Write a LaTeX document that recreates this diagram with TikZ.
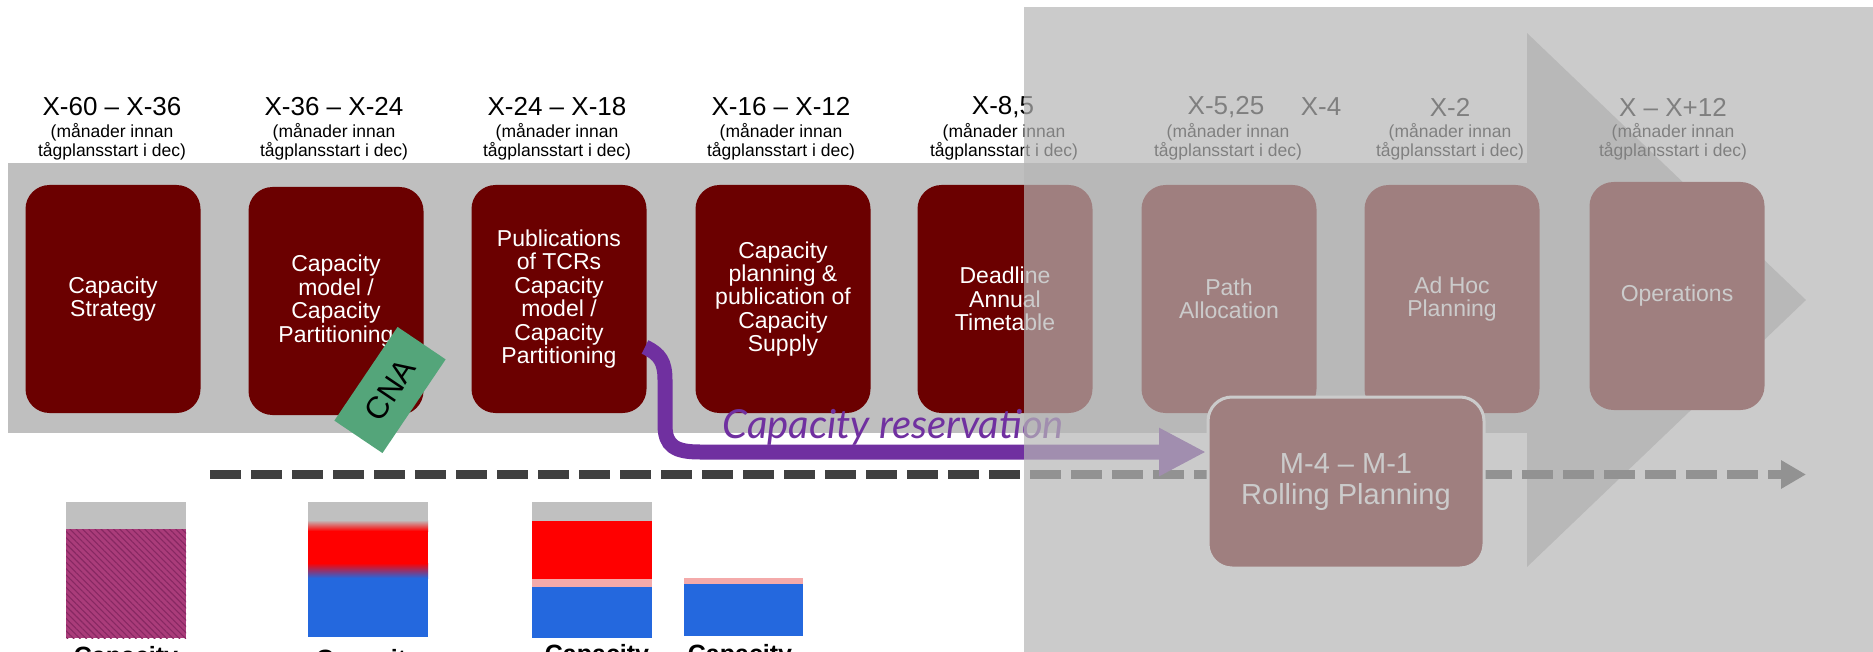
\documentclass[tikz,border=0pt]{standalone}
\usepackage{fontspec}
\setmainfont{Liberation Sans}
\newfontfamily\latofont{Lato}
\usetikzlibrary{arrows.meta,patterns.meta}

\definecolor{bandgray}{RGB}{191,191,191}
\definecolor{boxred}{RGB}{107,0,0}
\definecolor{resvpurple}{RGB}{112,48,160}
\definecolor{cnagreen}{RGB}{84,165,122}
\definecolor{dashgray}{RGB}{64,64,64}
\definecolor{veil}{RGB}{182,182,182}
\definecolor{barblue}{RGB}{36,104,222}
\definecolor{barpink}{RGB}{244,170,170}
\definecolor{barred}{RGB}{255,0,0}
\definecolor{barmag}{RGB}{170,60,122}
\definecolor{barmagline}{RGB}{135,40,98}
\definecolor{bargray}{RGB}{192,192,192}

\begin{document}
\begin{tikzpicture}[x=0.5pt,y=-0.5pt,
  phase/.style={rectangle, rounded corners=12pt, fill=boxred, text=white,
    minimum width=87.5pt, minimum height=114pt, inner sep=0pt, align=center,
    font=\fontsize{11.5}{11.7}\selectfont},
  period/.style={font=\fontsize{13}{15}\selectfont, inner sep=0pt},
  periodnote/.style={font=\fontsize{8.75}{9.5}\selectfont, align=center, inner sep=0pt},
  barlabel/.style={font=\bfseries\fontsize{12.5}{14}\selectfont, anchor=base, inner sep=0pt},
]
\clip (0,0) rectangle (1873,652);
\fill[white] (0,0) rectangle (1873,652);

% timeline band with its arrow head
\fill[bandgray] (8,163) rectangle (1528,433);
\fill[bandgray] (1527,33) -- (1806,300) -- (1527,567) -- cycle;

% period headings
\node[period] (p1) at (112,107) {X-60 – X-36};
\node[period] (p2) at (334,107) {X-36 – X-24};
\node[period] (p3) at (557,107) {X-24 – X-18};
\node[period] (p4) at (781,107) {X-16 – X-12};
\node[period] (p5) at (1003,107) {X-8,5};
\node[period] (p6) at (1226,107) {X-5,25};
\node[period] (p6b) at (1321,107) {X-4};
\node[period] (p7) at (1450,107) {X-2};
\node[period] (p8) at (1673,107) {X – X+12};
\foreach \cx/\nm in {112/n1,334/n2,557/n3,781/n4,1004/n5,1228/n6,1450/n7,1673/n8}
  \node[periodnote] (\nm) at (\cx,141.5) {(månader innan\\tågplansstart i dec)};

% process phases
\node[phase] (b1) at (113,299) {Capacity\\Strategy};
\node[phase] (b2) at (336,301) {Capacity\\model /\\Capacity\\Partitioning};
\node[phase] (b3) at (559,299) {Publications\\of TCRs\\Capacity\\model /\\Capacity\\Partitioning};
\node[phase] (b4) at (783,299) {Capacity\\planning \&\\publication of\\Capacity\\Supply};
\node[phase] (b5) at (1005,299) {Deadline\\Annual\\Timetable};
\node[phase] (b6) at (1229,299) {Path\\Allocation};
\node[phase] (b7) at (1452,299) {Ad Hoc\\Planning};
\node[phase] (b8) at (1677,296) {Operations};

% dashed time axis
\coordinate (tl-start) at (210,474.5);
\coordinate (tl-end) at (1806,474.5);
\draw[dashgray, line width=4.5pt, dash pattern=on 15.5pt off 5pt,
  -{Triangle[length=12.5pt,width=13.5pt]}] (tl-start) -- (tl-end);

% rolling planning
\node[phase, draw=white, line width=1.5pt, minimum width=138pt, minimum height=85.5pt,
  font=\fontsize{14.5}{15.5}\selectfont] (rolling) at (1346,482.5)
  {M-4 – M-1\\Rolling Planning};

% capacity reservation arrow
\coordinate (resv-start) at (645,347);
\coordinate (resv-end) at (1206,452);
\draw[resvpurple, line width=7.5pt, -{Triangle[length=23.5pt,width=22.5pt]}]
  (resv-start) .. controls (660,354) and (665,362) .. (665,380) -- (665,425)
  .. controls (665,446) and (675,452) .. (700,452) -- (resv-end);
\node[anchor=base west, inner sep=0pt, text=resvpurple,
  font=\latofont\itshape\fontsize{20}{24}\selectfont] (resv-label) at (722,438)
  {Capacity reservation};

% CNA tag
\node[fill=cnagreen, minimum width=56.5pt, minimum height=29pt, inner sep=0pt,
  rotate=56, font=\fontsize{15.5}{16}\selectfont] (cna) at (390,390) {CNA};

% capacity bars
\fill[bargray] (66,502) rectangle (186,529);
\fill[barmag] (66,529) rectangle (186,638);
\fill[pattern={Lines[angle=-45,distance=2.2pt,line width=0.55pt]}, pattern color=barmagline]
  (66,529) rectangle (186,638);

\fill[bargray] (308,502) rectangle (428,520);
\shade[top color=bargray, bottom color=barred] (308,520) rectangle (428,531);
\fill[barred] (308,530.5) rectangle (428,563.5);
\shade[top color=barred, bottom color=barblue] (308,563) rectangle (428,578);
\fill[barblue] (308,577.5) rectangle (428,637);

\fill[bargray] (532,502) rectangle (652,521);
\fill[barred] (532,521) rectangle (652,579);
\fill[barpink] (532,579) rectangle (652,587);
\fill[barblue] (532,587) rectangle (652,638);

\fill[barpink] (684,578) rectangle (803,584);
\fill[barblue] (684,584) rectangle (803,636);

\node[barlabel] (c1) at (126,664) {Capacity};
\node[barlabel] (c2) at (368,667) {Capacity};
\node[barlabel] (c3) at (597,662) {Capacity};
\node[barlabel] (c4) at (740,662) {Capacity};

% veil over the later phases
\fill[veil, fill opacity=0.7] (1024,7) rectangle (1873,652);
\end{tikzpicture}
\end{document}
